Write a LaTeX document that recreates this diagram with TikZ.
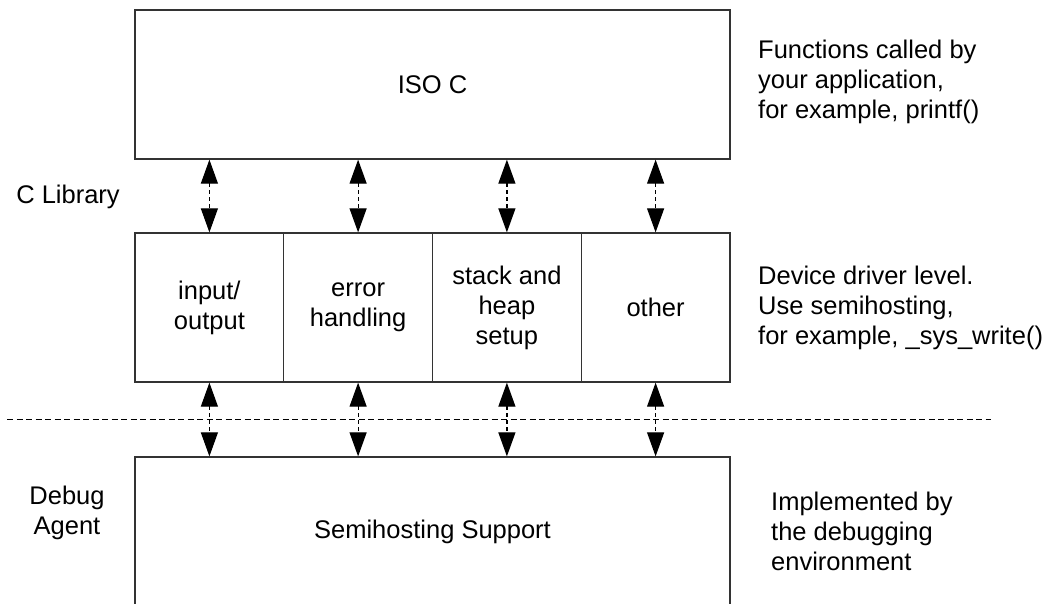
\documentclass[tikz,border=0pt]{standalone}
\usepackage{fontspec}
\setmainfont{Liberation Sans}
\usetikzlibrary{arrows.meta}
\newcommand\lbl{\fontsize{25.5}{30}\selectfont}
\begin{document}
\begin{tikzpicture}[x=1pt,y=-1pt,
  every node/.style={font=\lbl},
  bigbox/.style={draw=black!80,line width=1.3pt,minimum width=595pt,minimum height=149pt,inner sep=0pt,align=center},
  cell/.style={draw=black!80,line width=1.3pt,minimum width=148.75pt,minimum height=149pt,inner sep=0pt,align=center},
  note/.style={align=left,anchor=west,inner sep=0pt},
  side/.style={align=center,inner sep=0pt},
  link/.style={line width=1.2pt,dash pattern=on 4pt off 3pt,
    {Triangle[length=24pt,width=17pt]}-{Triangle[length=24pt,width=17pt]}},
  divider/.style={line width=1pt,dash pattern=on 6pt off 3.5pt}]
\useasboundingbox (0,0) rectangle (1054,603);
\clip (0,0) rectangle (1054,603);

% library layers
\node[bigbox] (iso) at (432.5,84.5) {ISO C};
\node[cell] (io)    at (209.4,307.5) {input/\\output};
\node[cell] (err)   at (358.1,307.5) {error\\handling};
\node[cell] (stack) at (506.9,307.5) {stack and\\heap\\setup};
\node[cell] (other) at (655.6,307.5) {other};
\node[bigbox] (semi) at (432.5,531.5) {Semihosting Support};

% level labels
\node[side] (clib) at (68,197) {C Library};
\node[side] (dbg) at (67,513) {Debug\\Agent};

% descriptions
\node[note] (d1) at (758,82) {Functions called by\\your application,\\for example, printf()};
\node[note] (d2) at (758,308) {Device driver level.\\Use semihosting,\\for example, \_sys\_write()};
\node[note] (d3) at (771,531) {Implemented by\\the debugging\\environment};

% boundary between target and host
\coordinate (dl) at (7,419);
\coordinate (dr) at (991,419);
\draw[divider] (dl) -- (dr);

% calls between layers
\foreach \c in {io,err,stack,other}{
  \draw[link] (iso.south -| \c) -- (\c.north);
  \draw[link] (\c.south) -- (semi.north -| \c);
}
\end{tikzpicture}
\end{document}
